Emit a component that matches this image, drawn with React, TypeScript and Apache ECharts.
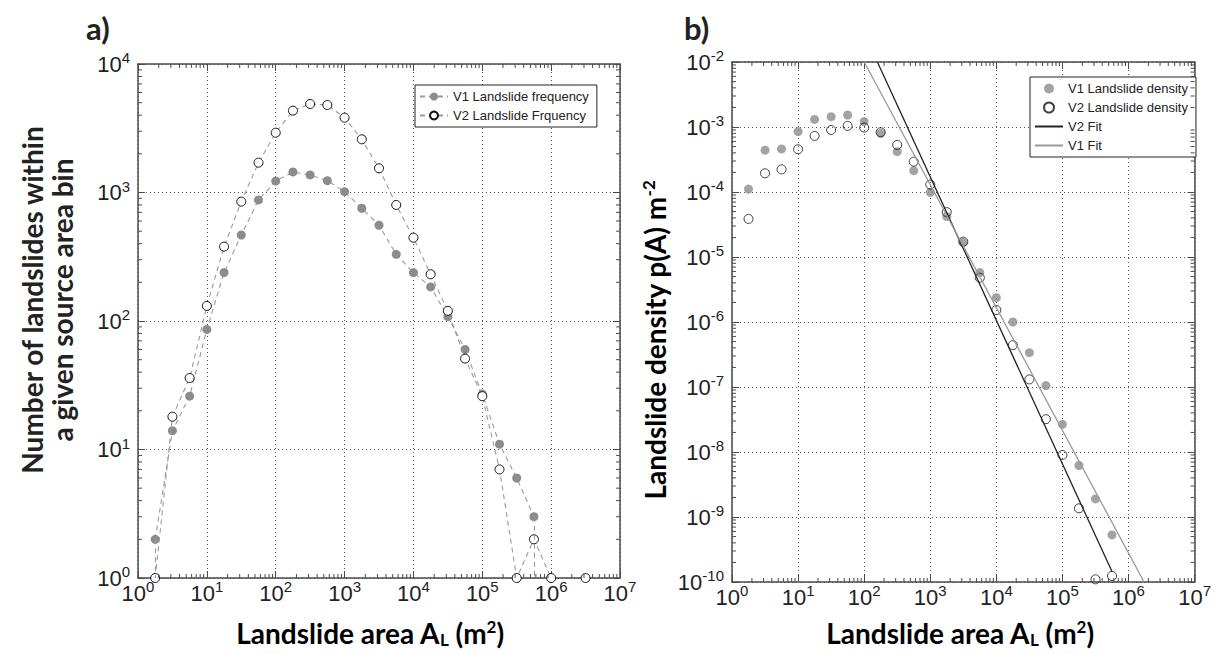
import React, { useEffect, useRef } from 'react';
import * as echarts from 'echarts';

// ---------- data ----------
const binAreas = [1, 1.778, 3.162, 5.623, 10, 17.78, 31.62, 56.23, 100, 177.8, 316.2, 562.3, 1000, 1778, 3162, 5623, 10000, 17783, 31623, 56234, 100000, 177828, 316228, 562341, 1000000, 1778279, 3162278];
const v1Frequency = [0, 2, 14, 26, 86, 238, 467, 875, 1228, 1445, 1369, 1236, 1014, 754, 556, 330, 238, 184, 108, 60, 27, 11, 6, 3, 0, 0, 0];
const v2Frequency = [0, 1, 18, 36, 131, 379, 849, 1706, 2920, 4335, 4886, 4797, 3820, 2594, 1543, 800, 445, 231, 120, 51, 26, 7, 1, 2, 1, 0, 1];

const densityAreas = [1.778, 3.162, 5.623, 10, 17.78, 31.62, 56.23, 100, 177.8, 316.2, 562.3, 1000, 1778, 3162, 5623, 10000, 17783, 31623, 56234, 100000, 177828, 316228, 562341];
const v1Density = [1.11e-4, 4.4e-4, 4.6e-4, 8.5e-4, 1.31e-3, 1.44e-3, 1.53e-3, 1.21e-3, 8.0e-4, 4.17e-4, 2.13e-4, 9.9e-5, 4.2e-5, 1.68e-5, 5.75e-6, 2.37e-6, 1.0e-6, 3.37e-7, 1.05e-7, 2.67e-8, 6.2e-9, 1.9e-9, 5.3e-10];
const v2Density = [3.85e-5, 1.94e-4, 2.23e-4, 4.54e-4, 7.3e-4, 9.0e-4, 1.04e-3, 9.8e-4, 8.3e-4, 5.3e-4, 2.93e-4, 1.3e-4, 4.9e-5, 1.72e-5, 4.8e-6, 1.53e-6, 4.4e-7, 1.31e-7, 3.2e-8, 9.0e-9, 1.36e-9, 1.1e-10, 1.24e-10];

const v2FitArea = [158.5, 562341];
const v2FitDensity = [1e-2, 1.45e-10];
const v1FitArea = [100, 1720000];
const v1FitDensity = [1e-2, 1e-10];

const freqXRange = [1, 1e7];
const freqYRange = [1, 1e4];
const densXRange = [1, 1e7];
const densYRange = [1e-10, 1e-2];

const legendA = ['V1 Landslide frequency', 'V2 Landslide Frquency'];
const legendB = ['V1 Landslide density', 'V2 Landslide density', 'V2 Fit', 'V1 Fit'];

// ---------- styling ----------
const TICK_FONT = '"Liberation Sans", Arial, Helvetica, sans-serif';
const TITLE_FONT = 'Lato, "Open Sans", sans-serif';
const AXIS_COLOR = '#4a4a4a';
const FILL_GRAY = '#8c8c8c';
const LINE_GRAY = '#9a9a9a';
const TITLE_SIZE = 28;

const GRID_A = { left: 138, top: 64, width: 482, height: 514 };
const GRID_B = { left: 732, top: 62, width: 465, height: 520 };

function minorValues(range: number[]) {
  const out: number[] = [];
  const lo = Math.round(Math.log10(range[0]));
  const hi = Math.round(Math.log10(range[1]));
  for (let d = lo; d < hi; d++) {
    for (let m = 2; m <= 9; m++) out.push(m * Math.pow(10, d));
  }
  return out;
}

const labelRich = {
  b: { fontSize: 22, fontFamily: TICK_FONT, color: '#222', lineHeight: 28 },
  s: { fontSize: 15, fontFamily: TICK_FONT, color: '#222', verticalAlign: 'top' },
};

function logAxis(gridIndex: number, range: number[], position: string, showLabel: boolean, split: boolean, isY: boolean) {
  return {
    type: 'log',
    logBase: 10,
    gridIndex,
    min: range[0],
    max: range[1],
    interval: 1,
    position,
    axisLine: { show: true, onZero: false, lineStyle: { color: AXIS_COLOR, width: 1.5 } },
    axisTick: { show: true, inside: true, length: 7, lineStyle: { color: AXIS_COLOR, width: 1 } },
    axisLabel: showLabel
      ? {
          show: true,
          margin: isY ? 8 : 1,
          showMinLabel: true,
          showMaxLabel: true,
          formatter: (v: number) => `{b|10}{s|${Math.round(Math.log10(v))}}`,
          rich: labelRich,
        }
      : { show: false },
    splitLine: { show: split, lineStyle: { color: '#555', type: [1, 3], width: 1 } },
    minorTick: { show: false },
  };
}

function minorTickSeries(xIdx: number, yIdx: number, values: number[], dir: 'x' | 'y', ref: number) {
  return {
    type: 'custom',
    xAxisIndex: xIdx,
    yAxisIndex: yIdx,
    silent: true,
    clip: false,
    z: 5,
    data: values.map((v) => (dir === 'x' ? [v, ref] : [ref, v])),
    renderItem: (params: any, api: any) => {
      const cs = params.coordSys;
      const p = api.coord([api.value(0), api.value(1)]);
      const style = { stroke: AXIS_COLOR, lineWidth: 1 };
      const L = 4;
      if (dir === 'x') {
        return {
          type: 'group',
          children: [
            { type: 'line', shape: { x1: p[0], y1: cs.y + cs.height, x2: p[0], y2: cs.y + cs.height - L }, style },
            { type: 'line', shape: { x1: p[0], y1: cs.y, x2: p[0], y2: cs.y + L }, style },
          ],
        };
      }
      return {
        type: 'group',
        children: [
          { type: 'line', shape: { x1: cs.x, y1: p[1], x2: cs.x + L, y2: p[1] }, style },
          { type: 'line', shape: { x1: cs.x + cs.width, y1: p[1], x2: cs.x + cs.width - L, y2: p[1] }, style },
        ],
      };
    },
  };
}

function freqData(values: number[]) {
  return binAreas.map((x, i) => (values[i] > 0 ? [x, values[i]] : [x, '-']));
}

// vertical drops where a neighbouring bin is empty (as drawn by the original plotting tool)
function dropLines(values: number[], yMin: number) {
  const out: any[] = [];
  values.forEach((v, i) => {
    if (v > yMin && ((i > 0 && values[i - 1] === 0) || (i < values.length - 1 && values[i + 1] === 0))) {
      out.push([{ coord: [binAreas[i], v] }, { coord: [binAreas[i], yMin] }]);
    }
  });
  return out;
}

const dashedLine = { color: LINE_GRAY, width: 1.1, type: [5, 4] };

const legendBase = {
  orient: 'vertical',
  itemWidth: 28,
  itemHeight: 10,
  itemGap: 6,
  padding: [5, 8, 5, 4],
  borderColor: '#222',
  borderWidth: 1,
  backgroundColor: '#fff',
  textStyle: { fontFamily: TICK_FONT, fontSize: 13, color: '#222' },
};

const titleRich = {
  b: { fontSize: TITLE_SIZE, fontWeight: 'bold', fontFamily: TITLE_FONT, color: '#222', lineHeight: 30 },
  s: { fontSize: 17, fontWeight: 'bold', fontFamily: TITLE_FONT, color: '#222', verticalAlign: 'top' },
  sub: { fontSize: 17, fontWeight: 'bold', fontFamily: TITLE_FONT, color: '#222', verticalAlign: 'bottom' },
};

export default function App() {
  const ref = useRef<HTMLDivElement>(null);
  useEffect(() => {
    if (!ref.current) return;
    const chart = echarts.init(ref.current, undefined, { renderer: 'svg' });

    const option: any = {
      animation: false,
      backgroundColor: '#fff',
      grid: [
        { ...GRID_A, containLabel: false },
        { ...GRID_B, containLabel: false },
      ],
      xAxis: [
        logAxis(0, freqXRange, 'bottom', true, true, false),
        logAxis(0, freqXRange, 'top', false, false, false),
        logAxis(1, densXRange, 'bottom', true, true, false),
        logAxis(1, densXRange, 'top', false, false, false),
      ],
      yAxis: [
        logAxis(0, freqYRange, 'left', true, true, true),
        logAxis(0, freqYRange, 'right', false, false, true),
        logAxis(1, densYRange, 'left', true, true, true),
        logAxis(1, densYRange, 'right', false, false, true),
      ],
      legend: [
        { ...legendBase, data: legendA, left: 415, top: 85 },
        {
          ...legendBase,
          left: 1030,
          top: 77,
          data: [
            { name: legendB[0] },
            { name: legendB[1] },
            { name: legendB[2], itemStyle: { opacity: 0 } },
            { name: legendB[3], itemStyle: { opacity: 0 } },
          ],
        },
      ],
      series: [
        minorTickSeries(0, 0, minorValues(freqXRange), 'x', freqYRange[0]),
        minorTickSeries(0, 0, minorValues(freqYRange), 'y', freqXRange[0]),
        minorTickSeries(2, 2, minorValues(densXRange), 'x', densYRange[0]),
        minorTickSeries(2, 2, minorValues(densYRange), 'y', densXRange[0]),
        {
          name: legendA[0],
          type: 'line',
          xAxisIndex: 0,
          yAxisIndex: 0,
          data: freqData(v1Frequency),
          connectNulls: false,
          clip: true,
          symbol: 'circle',
          symbolSize: 9,
          showAllSymbol: true,
          lineStyle: dashedLine,
          itemStyle: { color: FILL_GRAY },
          emphasis: { disabled: true },
          markLine: {
            silent: true,
            symbol: 'none',
            label: { show: false },
            lineStyle: dashedLine,
            emphasis: { disabled: true },
            data: dropLines(v1Frequency, freqYRange[0]),
          },
          z: 3,
        },
        {
          name: legendA[1],
          type: 'line',
          xAxisIndex: 0,
          yAxisIndex: 0,
          data: freqData(v2Frequency),
          connectNulls: false,
          clip: true,
          symbol: 'circle',
          symbolSize: 9,
          showAllSymbol: true,
          lineStyle: dashedLine,
          itemStyle: { color: '#fff', borderColor: '#111', borderWidth: 1 },
          emphasis: { disabled: true },
          markLine: {
            silent: true,
            symbol: 'none',
            label: { show: false },
            lineStyle: dashedLine,
            emphasis: { disabled: true },
            data: dropLines(v2Frequency, freqYRange[0]),
          },
          z: 4,
        },
        {
          name: legendB[0],
          type: 'scatter',
          xAxisIndex: 2,
          yAxisIndex: 2,
          data: densityAreas.map((x, i) => [x, v1Density[i]]),
          symbol: 'circle',
          symbolSize: 9,
          itemStyle: { color: FILL_GRAY },
          emphasis: { disabled: true },
          z: 3,
        },
        {
          name: legendB[1],
          type: 'scatter',
          xAxisIndex: 2,
          yAxisIndex: 2,
          data: densityAreas.map((x, i) => [x, v2Density[i]]),
          symbol: 'circle',
          symbolSize: 9,
          itemStyle: { color: 'rgba(255,255,255,0)', borderColor: '#111', borderWidth: 1 },
          emphasis: { disabled: true },
          z: 4,
        },
        {
          name: legendB[2],
          type: 'line',
          xAxisIndex: 2,
          yAxisIndex: 2,
          data: v2FitArea.map((x, i) => [x, v2FitDensity[i]]),
          symbol: 'none',
          clip: true,
          lineStyle: { color: '#222', width: 1.3 },
          itemStyle: { color: '#222' },
          emphasis: { disabled: true },
          z: 5,
        },
        {
          name: legendB[3],
          type: 'line',
          xAxisIndex: 2,
          yAxisIndex: 2,
          data: v1FitArea.map((x, i) => [x, v1FitDensity[i]]),
          symbol: 'none',
          clip: true,
          lineStyle: { color: '#999', width: 1.3 },
          itemStyle: { color: '#999' },
          emphasis: { disabled: true },
          z: 5,
        },
      ],
      graphic: [
        { type: 'text', left: 86, top: 12, style: { text: 'a)', font: `bold 31px ${TITLE_FONT}`, fill: '#222' } },
        { type: 'text', left: 684, top: 12, style: { text: 'b)', font: `bold 31px ${TITLE_FONT}`, fill: '#222' } },
        {
          type: 'text',
          x: 47,
          y: 300,
          rotation: Math.PI / 2,
          style: {
            text: 'Number of landslides within\na given source area bin',
            font: `bold ${TITLE_SIZE}px ${TITLE_FONT}`,
            fill: '#222',
            align: 'center',
            verticalAlign: 'middle',
            lineHeight: 30,
          },
        },
        {
          type: 'text',
          x: 655,
          y: 340,
          rotation: Math.PI / 2,
          style: {
            text: '{b|Landslide density p(A) m}{s|-2}',
            align: 'center',
            verticalAlign: 'middle',
            rich: titleRich,
          },
        },
        ...[370, 960].map((cx) => ({
          type: 'text',
          x: cx,
          y: 633,
          style: {
            text: '{b|Landslide area A}{sub|L}{b| (m}{s|2}{b|)}',
            align: 'center',
            verticalAlign: 'middle',
            rich: titleRich,
          },
        })),
      ],
    };

    chart.setOption(option);
    return () => chart.dispose();
  }, []);

  return (
    <div
      ref={ref}
      style={{ position: 'fixed', left: 0, top: 0, width: 1214, height: 654, background: '#fff' }}
    />
  );
}
